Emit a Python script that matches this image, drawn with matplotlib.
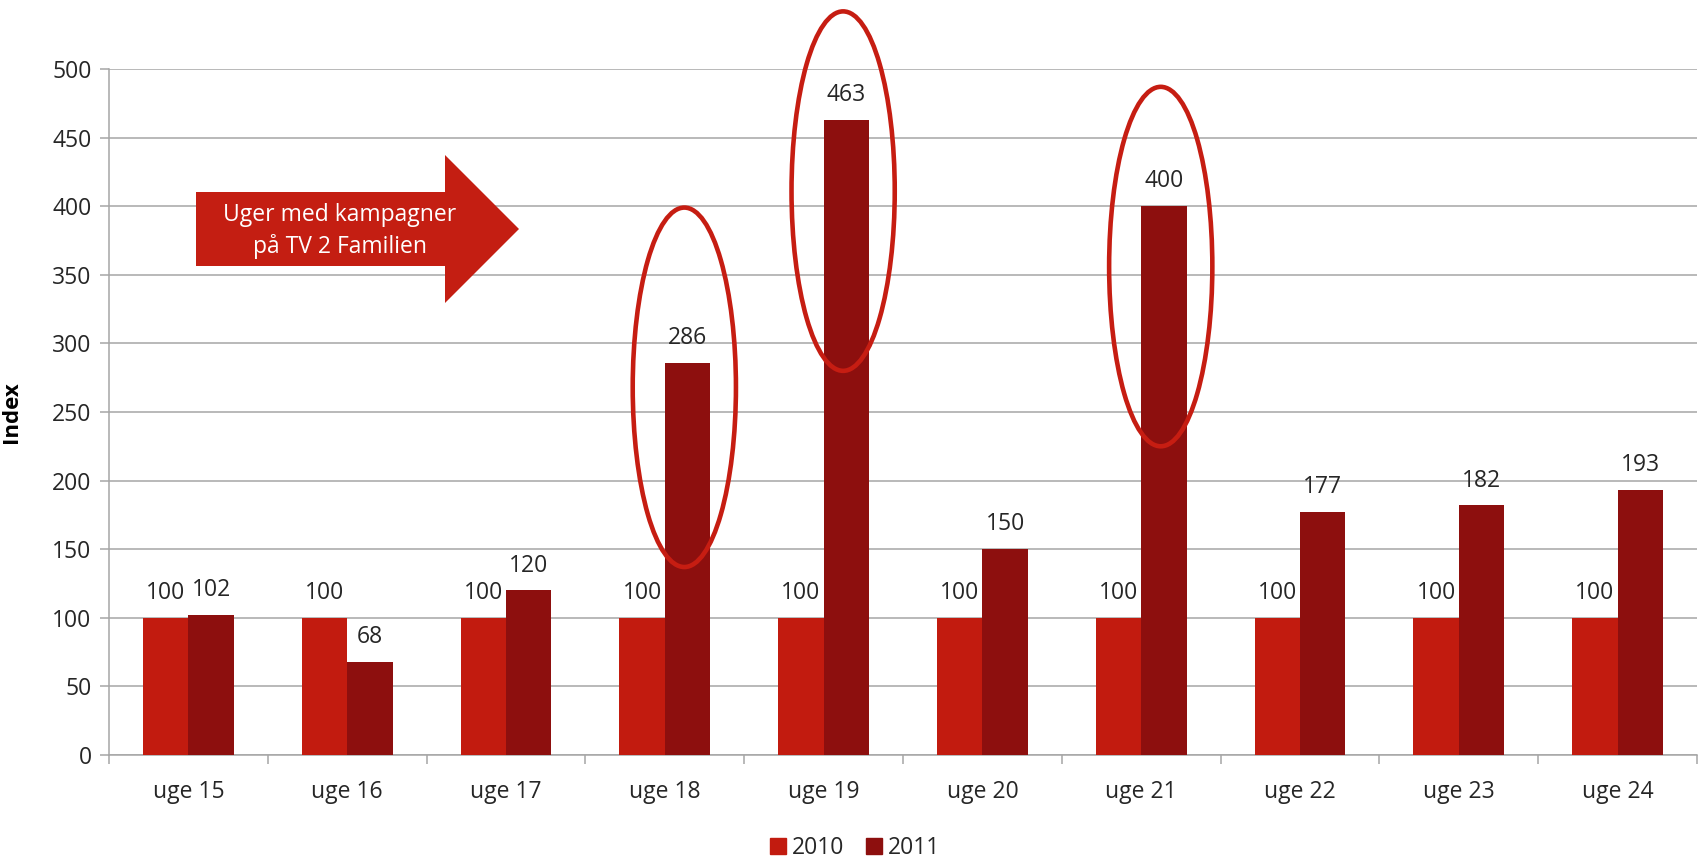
import matplotlib
matplotlib.use("Agg")
import matplotlib.pyplot as plt
from matplotlib.patches import Ellipse, Polygon
from matplotlib.lines import Line2D
import numpy as np

plt.rcParams['font.family'] = ['Open Sans', 'DejaVu Sans']

categories = ["uge 15", "uge 16", "uge 17", "uge 18", "uge 19",
              "uge 20", "uge 21", "uge 22", "uge 23", "uge 24"]
values_2010 = [100, 100, 100, 100, 100, 100, 100, 100, 100, 100]
values_2011 = [102, 68, 120, 286, 463, 150, 400, 177, 182, 193]
series_names = ["2010", "2011"]
y_ticks = [0, 50, 100, 150, 200, 250, 300, 350, 400, 450, 500]

# highlighted weeks (index, ellipse centre y in data units)
highlight_idx = [3, 4, 6]
highlight_cy = [268, 411, 356]

arrow_text = "Uger med kampagner\npå TV 2 Familien"

c2010 = "#C21B0F"
c2011 = "#8D0F0E"
c_ell = "#C61D12"
grid_c = "#A6A6A6"
text_c = "#262626"

W, H = 1698, 859
fig = plt.figure(figsize=(W / 100, H / 100), dpi=100)
ax = fig.add_axes([109 / W, 1 - 755 / H, (1697 - 109) / W, (755 - 69) / H])

x = np.arange(len(categories))
bw = 0.286
b1 = ax.bar(x - bw / 2, values_2010, bw, color=c2010, zorder=3, label=series_names[0])
b2 = ax.bar(x + bw / 2, values_2011, bw, color=c2011, zorder=3, label=series_names[1])

for bars, vals in ((b1, values_2010), (b2, values_2011)):
    for rect, v in zip(bars, vals):
        ax.annotate(str(v), (rect.get_x() + rect.get_width() / 2, v),
                    xytext=(0, 13.5), textcoords="offset points",
                    ha="center", va="baseline", fontsize=16.5, color=text_c, zorder=5)

ax.set_xlim(-0.5, len(categories) - 0.5)
ax.set_ylim(0, 500)
ax.set_yticks(y_ticks)
ax.set_yticklabels([str(t) for t in y_ticks])
ax.yaxis.grid(True, color=grid_c, linewidth=1.1, zorder=0)
ax.set_axisbelow(True)

ax.set_xticks(x)
ax.set_xticklabels(categories)
ax.set_xticks(np.arange(-0.5, len(categories), 1.0), minor=True)
ax.tick_params(axis="x", which="major", length=0, pad=18, labelsize=16.5, labelcolor=text_c)
ax.tick_params(axis="x", which="minor", length=6.5, width=1.1, color=grid_c)
ax.tick_params(axis="y", length=6.5, width=1.1, color=grid_c, pad=6, labelsize=16.5, labelcolor=text_c)

for s in ("top", "right"):
    ax.spines[s].set_visible(False)
for s in ("left", "bottom"):
    ax.spines[s].set_color(grid_c)
    ax.spines[s].set_linewidth(1.1)

ax.set_ylabel("Index", fontsize=16, fontweight="bold", color="black")
ax.yaxis.set_label_coords((22 - 109) / (1697 - 109), 0.5)

# ellipses around campaign weeks
for i, cy in zip(highlight_idx, highlight_cy):
    e = Ellipse((i + bw / 2 - 0.02, cy), width=0.65, height=262, fill=False,
                edgecolor=c_ell, linewidth=3.3, clip_on=False, zorder=6)
    ax.add_patch(e)

# arrow shape
pts_px = [(196, 192), (445, 192), (445, 155), (519, 229), (445, 303), (445, 266), (196, 266)]
pts = [(px / W, 1 - py / H) for px, py in pts_px]
fig.patches.append(Polygon(pts, closed=True, facecolor="#C41E12", edgecolor="none",
                           transform=fig.transFigure, zorder=7))
fig.text(340 / W, 1 - 231 / H, arrow_text, color="white", fontsize=16.5,
         ha="center", va="center", linespacing=1.35, zorder=8)

handles = [Line2D([], [], marker="s", linestyle="none", markersize=11, color=c2010),
           Line2D([], [], marker="s", linestyle="none", markersize=11, color=c2011)]
fig.legend(handles, series_names, loc="center", bbox_to_anchor=(853 / W, 1 - 848 / H),
           ncol=2, frameon=False, fontsize=16.5, handletextpad=0.1, columnspacing=0.8,
           handlelength=1.0, labelcolor=text_c)

fig.savefig("out.png", dpi=100)
